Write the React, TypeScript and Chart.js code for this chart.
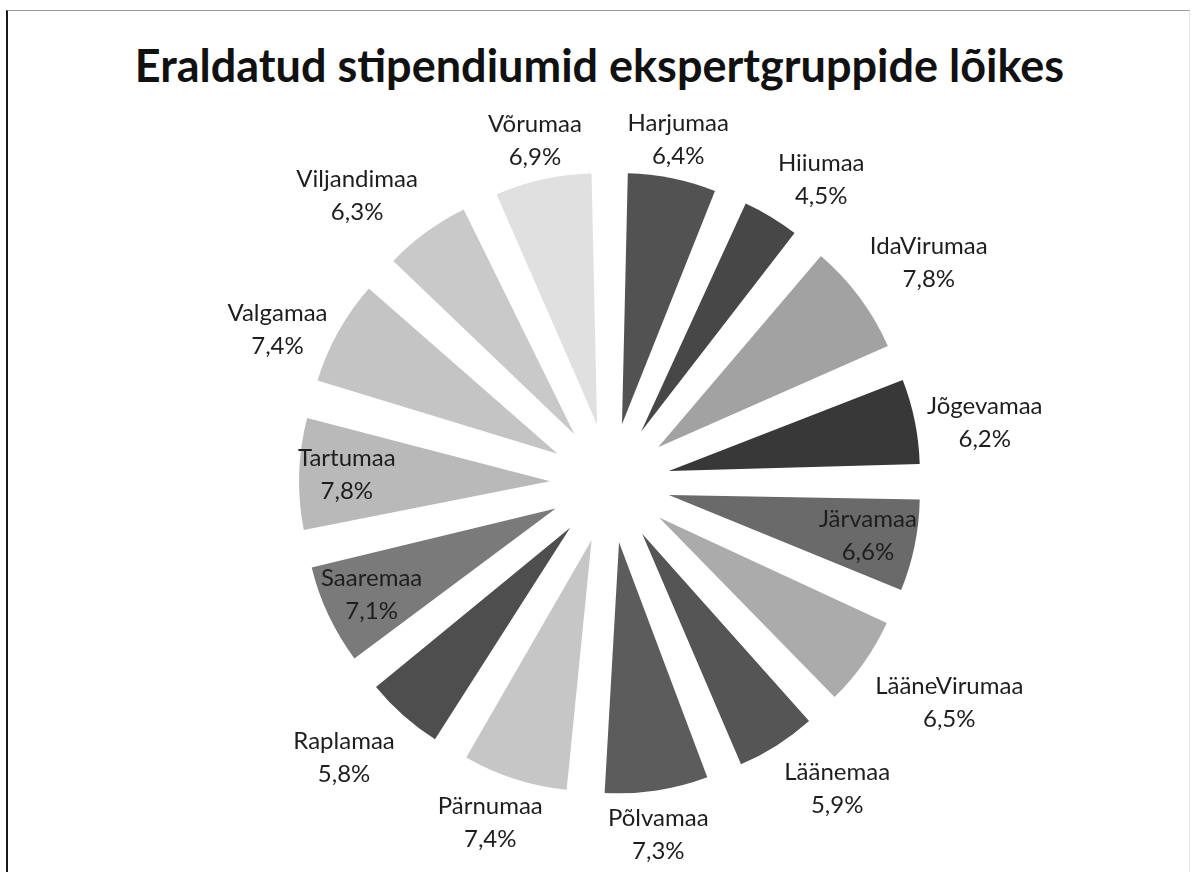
import React, { useEffect, useRef } from "react";
import { Chart, registerables } from "chart.js";

Chart.register(...registerables);

const chartTitle = "Eraldatud stipendiumid ekspertgruppide lõikes";

const regions = [
  "Harjumaa",
  "Hiiumaa",
  "IdaVirumaa",
  "Jõgevamaa",
  "Järvamaa",
  "LääneVirumaa",
  "Läänemaa",
  "Põlvamaa",
  "Pärnumaa",
  "Raplamaa",
  "Saaremaa",
  "Tartumaa",
  "Valgamaa",
  "Viljandimaa",
  "Võrumaa",
];

const shares = [6.4, 4.5, 7.8, 6.2, 6.6, 6.5, 5.9, 7.3, 7.4, 5.8, 7.1, 7.8, 7.4, 6.3, 6.9];

const sliceColors = [
  "#525252",
  "#474747",
  "#a2a2a2",
  "#383838",
  "#6a6a6a",
  "#ababab",
  "#555555",
  "#5c5c5c",
  "#c6c6c6",
  "#4e4e4e",
  "#7a7a7a",
  "#b9b9b9",
  "#c4c4c4",
  "#c9c9c9",
  "#e0e0e0",
];

const insideLabels = ["Järvamaa", "Saaremaa", "Tartumaa"];

const OUTER_R = 251;
const EXPLODE = 60; // translation in px
const LABEL_FONT = "24px Lato";
const LINE_H = 33;
const LABEL_GAP = 10;

const fmt = (v: number) => v.toFixed(1).replace(".", ",") + "%";

const radiusFix = {
  id: "radiusFix",
  beforeDatasetsDraw(chart: any) {
    const meta = chart.getDatasetMeta(0);
    meta.data.forEach((el: any) => {
      const fix = 1 - Math.sin(Math.min(Math.PI, el.circumference || 0));
      el.outerRadius = OUTER_R - EXPLODE * fix;
    });
  },
};

const labelPlugin = {
  id: "sliceLabels",
  afterDatasetsDraw(chart: any) {
    const ctx = chart.ctx;
    const meta = chart.getDatasetMeta(0);
    ctx.save();
    ctx.font = LABEL_FONT;
    ctx.fillStyle = "#1e1e1e";
    ctx.textAlign = "center";
    ctx.textBaseline = "middle";
    meta.data.forEach((el: any, i: number) => {
      const mid = (el.startAngle + el.endAngle) / 2;
      const ux = Math.cos(mid);
      const uy = Math.sin(mid);
      const ax = el.x + ux * EXPLODE;
      const ay = el.y + uy * EXPLODE;
      const l1 = regions[i];
      const l2 = fmt(shares[i]);
      let cx: number;
      let cy: number;
      if (insideLabels.includes(l1)) {
        const d = OUTER_R * 0.81;
        cx = ax + ux * d;
        cy = ay + uy * d;
      } else {
        const w = Math.max(ctx.measureText(l1).width, ctx.measureText(l2).width) * 1.04;
        const hh = LINE_H * 0.95;
        const px = ax + ux * (OUTER_R + LABEL_GAP);
        const py = ay + uy * (OUTER_R + LABEL_GAP);
        const theta = (Math.acos(Math.min(1, Math.abs(uy))) * 180) / Math.PI;
        if (theta > 57) {
          cx = px + Math.sign(ux) * w / 2;
          cy = py;
        } else {
          const f = Math.max(0, Math.min(1, (theta - 10) / 20));
          cx = px + Math.sign(ux) * (w / 2) * f;
          cy = py + Math.sign(uy) * hh;
        }
        cy += 3;
      }
      ctx.fillText(l1, cx, cy - LINE_H / 2);
      ctx.fillText(l2, cx, cy + LINE_H / 2);
    });
    ctx.restore();
  },
};

export default function App() {
  const ref = useRef<HTMLCanvasElement>(null);

  useEffect(() => {
    document.body.style.margin = "0";
    const chart = new Chart(ref.current!, {
      type: "pie",
      data: {
        labels: regions,
        datasets: [
          {
            data: shares,
            backgroundColor: sliceColors,
            borderWidth: 0,
            offset: EXPLODE * 4,
            radius: OUTER_R,
            clip: false as any,
          } as any,
        ],
      },
      options: {
        animation: false,
        responsive: false,
        layout: { padding: { left: 25, right: 0, top: 100, bottom: 6 } },
        plugins: {
          legend: { display: false },
          tooltip: { enabled: false },
          title: { display: false },
        },
      },
      plugins: [radiusFix, labelPlugin],
    });
    return () => chart.destroy();
  }, []);

  return (
    <div
      style={{
        position: "absolute",
        left: 0,
        top: 0,
        width: 1195,
        height: 872,
        background: "#ffffff",
        overflow: "hidden",
      }}
    >
      <div
        style={{
          position: "absolute",
          left: 6,
          top: 10,
          width: 1184,
          height: 900,
          borderLeft: "2px solid #1a1a1a",
          borderTop: "1px solid #9a9a9a",
          borderRight: "1px solid #e6e6e6",
          boxSizing: "border-box",
        }}
      />
      <div
        style={{
          position: "absolute",
          left: 0,
          top: 40,
          width: 1199,
          textAlign: "center",
          fontFamily: "Lato",
          fontWeight: "bold",
          fontSize: 45,
          lineHeight: "50px",
          color: "#111111",
          whiteSpace: "nowrap",
        }}
      >
        {chartTitle}
      </div>
      <canvas
        ref={ref}
        width={1195}
        height={872}
        style={{ position: "absolute", left: 0, top: 0, width: 1195, height: 872 }}
      />
    </div>
  );
}
